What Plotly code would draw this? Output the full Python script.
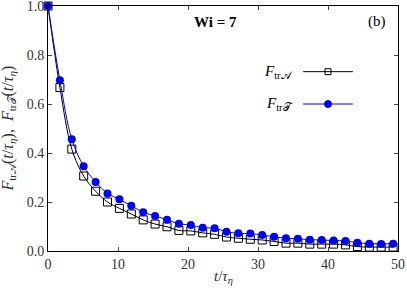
import plotly.graph_objects as go

t = [round(k * 1.7, 2) for k in range(30)]

F_trA = [1.0, 0.667, 0.416, 0.306, 0.244, 0.200, 0.174, 0.151, 0.127, 0.110,
         0.099, 0.084, 0.082, 0.074, 0.068, 0.057, 0.052, 0.048, 0.045, 0.039,
         0.032, 0.032, 0.028, 0.028, 0.028, 0.025, 0.018, 0.016, 0.016, 0.016]
F_trT = [1.0, 0.697, 0.456, 0.346, 0.282, 0.235, 0.211, 0.185, 0.158, 0.143,
         0.128, 0.111, 0.106, 0.095, 0.093, 0.079, 0.072, 0.071, 0.065, 0.058,
         0.052, 0.050, 0.046, 0.045, 0.043, 0.041, 0.034, 0.030, 0.029, 0.030]

x_ticks = [0, 10, 20, 30, 40, 50]
y_ticks = [0.0, 0.2, 0.4, 0.6, 0.8, 1.0]
y_ticklabels = ["0.0", "0.2", "0.4", "0.6", "0.8", "1.0"]

FONT = "Liberation Serif, DejaVu Serif, serif"
CAL_A = "<span style='font-family:DejaVu Sans'>𝒜</span>"
CAL_T = "<span style='font-family:DejaVu Sans'>𝒯</span>"

fig = go.Figure()
fig.add_trace(go.Scatter(
    x=t, y=F_trA, mode="lines+markers", name="A",
    line=dict(color="black", width=1, shape="spline"),
    marker=dict(symbol="square-open", size=8, color="black", line=dict(width=1)),
    showlegend=False, cliponaxis=False))
fig.add_trace(go.Scatter(
    x=t, y=F_trT, mode="lines+markers", name="T",
    line=dict(color="blue", width=1, shape="spline"),
    marker=dict(symbol="circle", size=8, color="blue"),
    showlegend=False, cliponaxis=False))

# legend drawn manually in paper coords
leg = [("<i>F</i><sub>tr" + CAL_A + "</sub>", "black", "square-open", 6, 0.732),
       ("<i>F</i><sub>tr" + CAL_T + "</sub>", "blue", "circle", 7, 0.60)]
for label, col, sym, sz, yy in leg:
    fig.add_shape(type="line", xref="paper", yref="paper",
                  x0=0.729, x1=0.871, y0=yy, y1=yy,
                  line=dict(color=col, width=1))
    fig.add_trace(go.Scatter(x=[0.80], y=[yy], xaxis="x2", yaxis="y2",
                             mode="markers", showlegend=False, hoverinfo="skip",
                             marker=dict(symbol=sym, size=sz, color=col, line=dict(width=1, color=col))))
    fig.add_annotation(xref="paper", yref="paper", x=0.706, y=yy, text=label,
                       showarrow=False, xanchor="right", yanchor="middle",
                       font=dict(family=FONT, size=15, color="black"))

fig.add_annotation(xref="paper", yref="paper", x=0.41, y=0.935, text="<b>Wi = 7</b>",
                   showarrow=False, xanchor="left", yanchor="middle",
                   font=dict(family=FONT, size=15, color="black"))
fig.add_annotation(xref="paper", yref="paper", x=0.97, y=0.935, text="(b)",
                   showarrow=False, xanchor="right", yanchor="middle",
                   font=dict(family=FONT, size=15, color="black"))

# axis titles as annotations for exact placement
fig.add_annotation(xref="paper", yref="paper", x=0.5, y=-0.106,
                   text="<i>t</i>/<i>τ</i><sub><i>η</i></sub>",
                   showarrow=False, xanchor="center", yanchor="middle",
                   font=dict(family=FONT, size=15, color="#333"))
fig.add_annotation(xref="paper", yref="paper", x=-0.114, y=0.5, textangle=-90,
                   text="<i>F</i><sub>tr" + CAL_A + "</sub>(<i>t</i>/<i>τ</i><sub><i>η</i></sub>),  <i>F</i><sub>tr" + CAL_T + "</sub>(<i>t</i>/<i>τ</i><sub><i>η</i></sub>)",
                   showarrow=False, xanchor="center", yanchor="middle",
                   font=dict(family=FONT, size=16, color="#333"))

fig.update_layout(
    width=407, height=290,
    margin=dict(l=48, r=9, t=6, b=39),
    paper_bgcolor="white", plot_bgcolor="white",
    font=dict(family=FONT, size=14, color="#333"),
    xaxis=dict(range=[0, 50], tickvals=x_ticks, ticks="inside", ticklen=4,
               showline=True, linecolor="black", linewidth=1, mirror="ticks",
               showgrid=False, zeroline=False, tickfont=dict(size=14),
               ticklabeloverflow="allow", automargin=False),
    yaxis=dict(range=[0, 1.0], tickvals=y_ticks, ticktext=y_ticklabels,
               ticks="inside", ticklen=4, tickfont=dict(size=14),
               showline=True, linecolor="black", linewidth=1, mirror="ticks",
               showgrid=False, zeroline=False, ticklabeloverflow="allow",
               automargin=False),
    xaxis2=dict(range=[0, 1], domain=[0, 1], visible=False, overlaying="x", automargin=False),
    yaxis2=dict(range=[0, 1], domain=[0, 1], visible=False, overlaying="y", automargin=False),
)

fig.write_html("out.html", config={"displayModeBar": False},
               post_script="document.body.style.margin='0px';")
